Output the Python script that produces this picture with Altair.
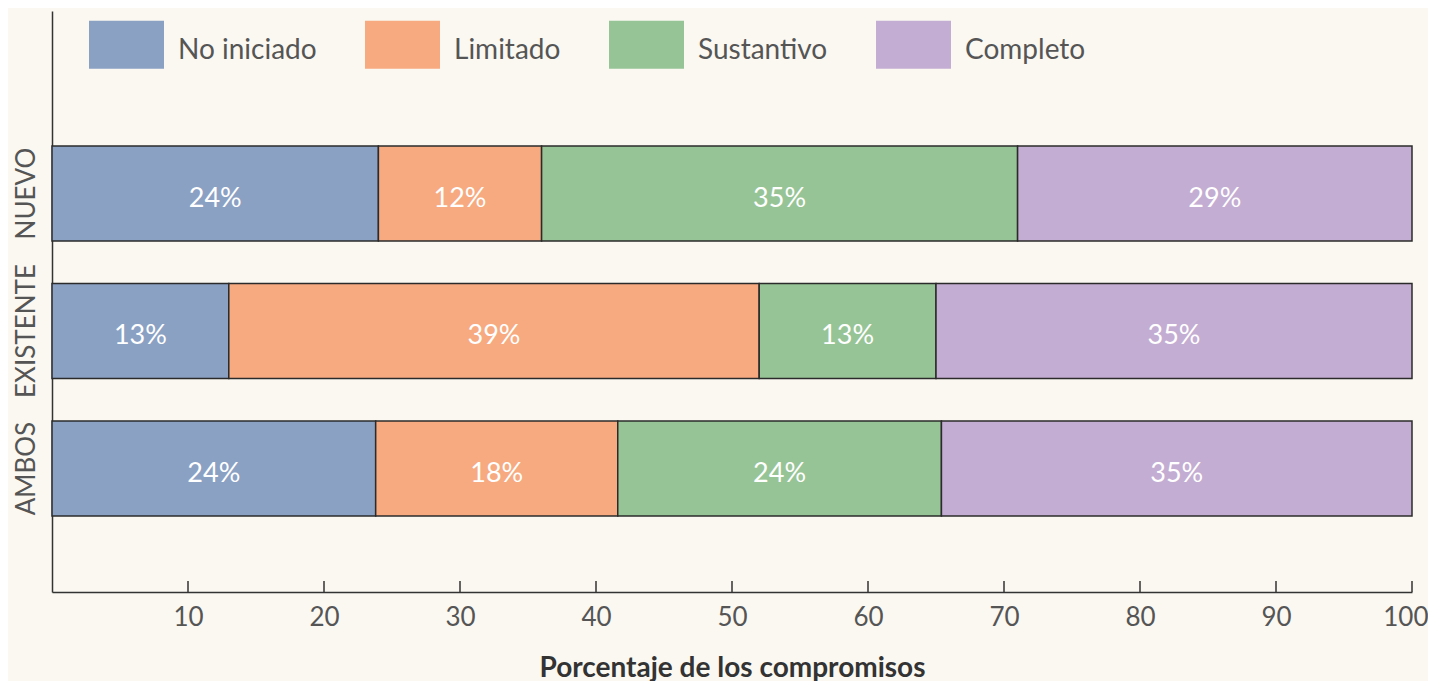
import altair as alt
import pandas as pd

groups = ["NUEVO", "EXISTENTE", "AMBOS"]
statuses = ["No iniciado", "Limitado", "Sustantivo", "Completo"]
colors = ["#8BA1C4", "#F7AA80", "#97C496", "#C4ADD2"]
nuevo = [24, 12, 35, 29]
existente = [13, 39, 13, 35]
ambos = [23.8, 17.8, 23.8, 34.6]
x_ticks = [10, 20, 30, 40, 50, 60, 70, 80, 90, 100]

rows = []
for g, vals in zip(groups, [nuevo, existente, ambos]):
    start = 0.0
    for i, (s, v) in enumerate(zip(statuses, vals)):
        rows.append(dict(grupo=g, estado=s, orden=i, inicio=start, fin=start + v,
                         mid=start + v / 2, etiqueta=f"{round(v)}%"))
        start += v
df = pd.DataFrame(rows)
ticks_df = pd.DataFrame({"v": x_ticks})

W, H = 1360, 581
FONT = "Lato"

yscale = alt.Scale(paddingInner=0.309, paddingOuter=0.767, align=0.64)

bars = alt.Chart(df).mark_bar(stroke="#2b2b2b", strokeWidth=1.5).encode(
    x=alt.X("inicio:Q", scale=alt.Scale(domain=[0, 100], nice=False, zero=True),
            axis=alt.Axis(values=x_ticks, ticks=False, grid=False,
                          title="Porcentaje de los compromisos",
                          titleFont=FONT, titleFontSize=28, titleFontWeight="bold",
                          titleColor="#333333", titlePadding=24,
                          labelFont=FONT, labelFontSize=26, labelColor="#555555",
                          labelPadding=12, domainColor="#333333", domainWidth=1.5,
                          labelFlush=True, labelFlushOffset=16)),
    x2="fin:Q",
    y=alt.Y("grupo:N", sort=groups, scale=yscale,
            axis=alt.Axis(title=None, ticks=False, labelAngle=270, labelAlign="center",
                          labelBaseline="alphabetic", labelPadding=18, labelFontSize=26,
                          labelColor="#555555", labelFont=FONT, domainColor="#333333",
                          domainWidth=1.5)),
    color=alt.Color("estado:N", sort=statuses,
                    scale=alt.Scale(domain=statuses, range=colors),
                    legend=alt.Legend(title=None, orient="none", direction="horizontal",
                                      legendX=37, legendY=2, padding=0,
                                      symbolType="M-1,-0.8H1V0.48H-1Z",
                                      symbolSize=5625, symbolStrokeWidth=0,
                                      symbolOpacity=1,
                                      labelFont=FONT, labelFontSize=28,
                                      labelColor="#555555", labelOffset=14,
                                      columnPadding=48, labelLimit=400)),
    order="orden:Q",
)

text = alt.Chart(df).mark_text(color="white", fontSize=27, font=FONT, dy=5).encode(
    x="mid:Q",
    y=alt.Y("grupo:N", sort=groups),
    text="etiqueta:N",
)

tick_rules = alt.Chart(ticks_df).mark_rule(color="#333333", strokeWidth=1.5).encode(
    x="v:Q",
    y=alt.value(H - 11),
    y2=alt.value(H),
)

chart = alt.layer(bars, text, tick_rules).properties(
    width=W, height=H,
    autosize=alt.AutoSizeParams(type="none"),
    padding={"left": 44, "top": 3, "right": 16, "bottom": 89},
    background="#FAF8F1",
).configure_view(stroke=None)

chart.save("out.html", embed_options={"renderer": "svg", "actions": False})
